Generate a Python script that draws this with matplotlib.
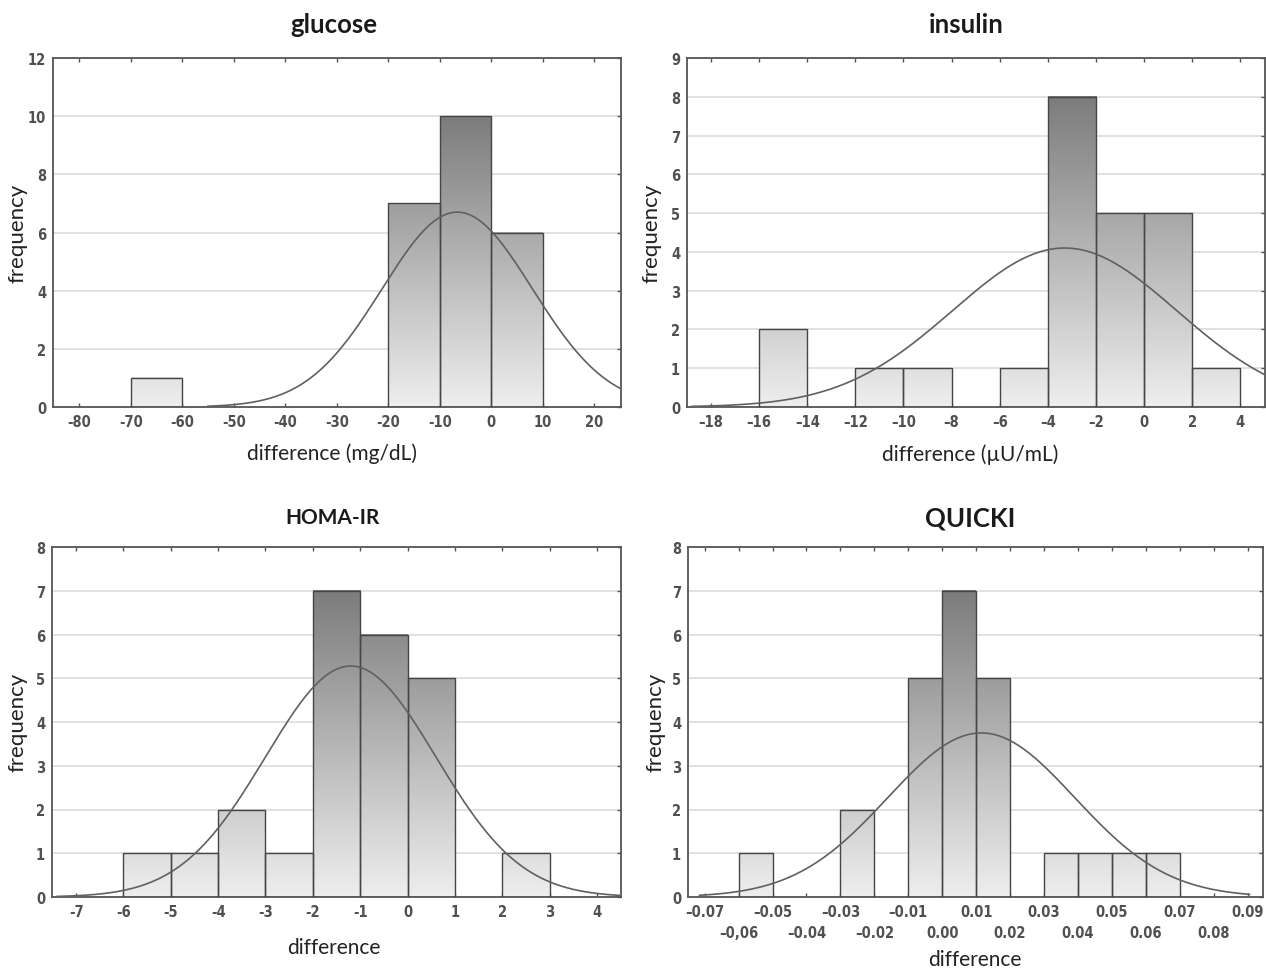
import numpy as np
import matplotlib
matplotlib.use("Agg")
import matplotlib.pyplot as plt
from matplotlib.colors import LinearSegmentedColormap
from matplotlib.patches import Rectangle

# histogram data (left bin edge, count)
glucose_bins = [-70, -20, -10, 0]
glucose_counts = [1, 7, 10, 6]
insulin_bins = [-16, -12, -10, -6, -4, -2, 0, 2]
insulin_counts = [2, 1, 1, 1, 8, 5, 5, 1]
homa_bins = [-6, -5, -4, -3, -2, -1, 0, 2]
homa_counts = [1, 1, 2, 1, 7, 6, 5, 1]
quicki_bins = [-0.06, -0.03, -0.01, 0.0, 0.01, 0.03, 0.04, 0.05, 0.06]
quicki_counts = [1, 2, 5, 7, 5, 1, 1, 1, 1]

# fitted normal curves: mean, sd, peak height, x-range drawn
glucose_fit = (-6.6, 14.6, 6.7, -55, 25)
insulin_fit = (-3.3, 4.66, 4.1, -18.8, 5)
homa_fit = (-1.2, 1.8, 5.28, -7.4, 4.5)
quicki_fit = (0.0115, 0.0275, 3.75, -0.0715, 0.0905)

glucose_yticks = [0, 2, 4, 6, 8, 10, 12]
insulin_yticks = list(range(10))
homa_yticks = list(range(9))
quicki_yticks = list(range(9))

glucose_xticks = list(range(-80, 21, 10))
glucose_xlabels = ['-80', '-70', '-60', '-50', '-40', '-30', '-20', '-10', '0', '10', '20']
insulin_xticks = list(range(-18, 5, 2))
insulin_xlabels = ['–18', '–16', '–14', '–12', '–10', '–8', '–6', '–4', '–2', '0', '2', '4']
homa_xticks = list(range(-7, 5))
homa_xlabels = ['-7', '-6', '-5', '-4', '-3', '-2', '-1', '0', '1', '2', '3', '4']
quicki_xticks = [round(-0.07 + 0.01 * i, 2) for i in range(17)]
quicki_xlabels = ['–0.07', '–0,06', '–0.05', '–0.04', '–0.03', '–0.02', '–0.01', '0.00', '0.01',
                  '0.02', '0.03', '0.04', '0.05', '0.06', '0.07', '0.08', '0.09']

W, H = 1266, 970
fig = plt.figure(figsize=(W / 100, H / 100), dpi=100)

grad = LinearSegmentedColormap.from_list('bars', ['#eeeeee', '#7c7c7c'])
tick_font = dict(family='DejaVu Sans', stretch='condensed', weight='bold', size=10.5, color='#505050')
text_font = ['Lato', 'DejaVu Sans']


def px_axes(l, t, r, b):
    return fig.add_axes([l / W, 1 - b / H, (r - l) / W, (b - t) / H])


def draw_panel(ax, bins, counts, width, fit, xlim, yticks, xticks, xlabels, two_rows=False):
    top = max(counts)
    for x0, c in zip(bins, counts):
        g = np.linspace(0, c / top, 200).reshape(-1, 1)
        ax.imshow(g, cmap=grad, vmin=0, vmax=1, origin='lower', aspect='auto',
                  extent=(x0, x0 + width, 0, c), zorder=2, interpolation='bilinear')
        ax.add_patch(Rectangle((x0, 0), width, c, fill=False, edgecolor='#454545', lw=1.0, zorder=3))
    mu, sd, peak, a, b = fit
    xs = np.linspace(a, b, 300)
    ax.plot(xs, peak * np.exp(-0.5 * ((xs - mu) / sd) ** 2), color='#606060', lw=1.2, zorder=4)
    ax.set_xlim(*xlim)
    ax.set_ylim(yticks[0], yticks[-1])
    ax.set_yticks(yticks)
    ax.set_yticklabels([str(v) for v in yticks], **tick_font)
    if two_rows:
        ax.set_xticks(xticks[0::2])
        ax.set_xticklabels(xlabels[0::2], **tick_font)
        ax.set_xticks(xticks[1::2], minor=True)
        ax.set_xticklabels(xlabels[1::2], minor=True, **tick_font)
        ax.tick_params(axis='x', which='minor', direction='in', length=3, width=1,
                       color='#555555', top=True, pad=20)
    else:
        ax.set_xticks(xticks)
        ax.set_xticklabels(xlabels, **tick_font)
    ax.yaxis.grid(True, color='#dcdcdc', lw=1.2, zorder=0)
    ax.set_axisbelow(True)
    ax.tick_params(direction='in', length=3, width=1, color='#555555', top=True, right=True, pad=5)
    ax.tick_params(axis='y', left=False, right=True)
    for s in ax.spines.values():
        s.set_color('#555555')
        s.set_linewidth(1.3)


ax1 = px_axes(53, 59, 621, 408)
draw_panel(ax1, glucose_bins, glucose_counts, 10, glucose_fit, (-85.1, 25.2), glucose_yticks,
           glucose_xticks, glucose_xlabels)
ax2 = px_axes(687, 59, 1265, 408)
draw_panel(ax2, insulin_bins, insulin_counts, 2, insulin_fit, (-19.0, 5.03), insulin_yticks,
           insulin_xticks, insulin_xlabels)
ax3 = px_axes(52, 548, 621, 898)
draw_panel(ax3, homa_bins, homa_counts, 1, homa_fit, (-7.51, 4.51), homa_yticks,
           homa_xticks, homa_xlabels)
ax4 = px_axes(688, 548, 1263, 898)
draw_panel(ax4, quicki_bins, quicki_counts, 0.01, quicki_fit, (-0.0749, 0.0945), quicki_yticks,
           quicki_xticks, quicki_xlabels, two_rows=True)


def ftext(x, y, s, **kw):
    fig.text(x / W, 1 - y / H, s, ha='center', va='center', family=text_font, **kw)


ftext(334, 25, 'glucose', size=18.5, weight='bold', color='#1a1a1a')
ftext(966, 25, 'insulin', size=18.5, weight='bold', color='#1a1a1a')
ftext(333, 518, 'HOMA-IR', size=15, weight='bold', color='#1a1a1a')
ftext(970, 518, 'QUICKI', size=18.5, weight='bold', color='#1a1a1a')

ftext(332, 454, 'difference (mg/dL)', size=15, color='#222222')
ftext(970, 455, 'difference (µU/mL)', size=15, color='#222222')
ftext(334, 948, 'difference', size=15, color='#222222')
ftext(975, 960, 'difference', size=15, color='#222222')

for x, y in [(18, 233), (651, 233), (18, 722), (655, 722)]:
    ftext(x, y, 'frequency', size=16, color='#222222', rotation=90)

fig.savefig('out.png', dpi=100, facecolor='white')
